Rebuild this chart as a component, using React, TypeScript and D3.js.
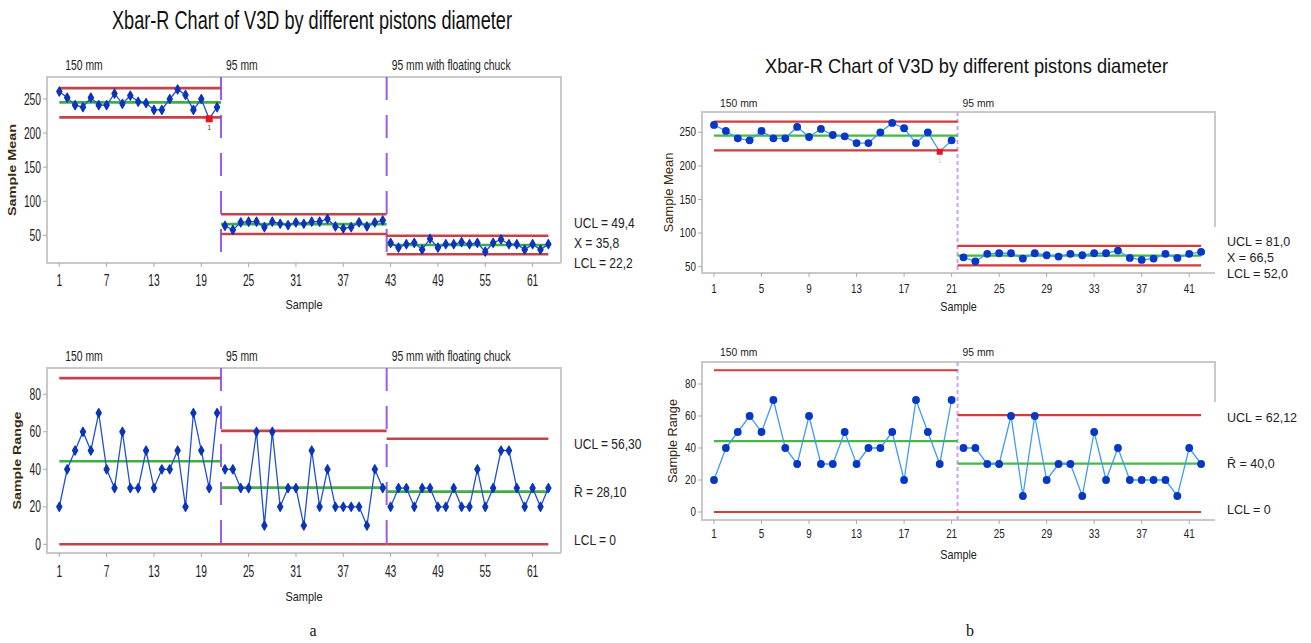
import React from "react";
import * as d3 from "d3";

// ---------------- data ----------------
const titleText = "Xbar-R Chart of V3D by different pistons diameter";
const stageNamesA = ["150 mm", "95 mm", "95 mm with floating chuck"];
const stageNamesB = ["150 mm", "95 mm"];

const mean150 = [261, 252, 241, 238, 252, 241, 241, 258, 243, 255, 246, 244, 234, 234, 250, 264, 256, 234, 250, 221, 238];
const mean95 = [64, 58, 69, 70, 70, 62, 70, 67, 65, 69, 67, 70, 70, 74, 63, 60, 62, 69, 63, 69, 72];
const mean95Chuck = [39, 32, 37, 39, 29, 45, 32, 37, 37, 40, 37, 39, 26, 39, 44, 37, 37, 29, 37, 29, 37];

const range150 = [20, 40, 50, 60, 50, 70, 40, 30, 60, 30, 30, 50, 30, 40, 40, 50, 20, 70, 50, 30, 70];
const range95 = [40, 40, 30, 30, 60, 10, 60, 20, 30, 30, 10, 50, 20, 40, 20, 20, 20, 20, 10, 40, 30];
const range95Chuck = [20, 30, 30, 20, 30, 30, 20, 20, 30, 20, 20, 40, 20, 30, 50, 50, 30, 20, 30, 20, 30];

const meanUCL = [266, 81.0, 49.4];
const meanCL = [245, 66.5, 35.8];
const meanLCL = [223, 52.0, 22.2];
const rangeUCL = [88.6, 60.5, 56.3];
const rangeCL = [44.3, 30.2, 28.1];
const rangeLCL = [0, 0, 0];

const flaggedSamples = [20];
const flagText = "1";

const meanTicks = [50, 100, 150, 200, 250];
const rangeTicks = [0, 20, 40, 60, 80];
const sampleTicksA = [1, 7, 13, 19, 25, 31, 37, 43, 49, 55, 61];
const sampleTicksB = [1, 5, 9, 13, 17, 21, 25, 29, 33, 37, 41];

const meanLabelsA = ["UCL = 49,4", "X = 35,8", "LCL = 22,2"];
const rangeLabelsA = ["UCL = 56,30", "R\u0304 = 28,10", "LCL = 0"];
const meanLabelsB = ["UCL = 81,0", "X = 66,5", "LCL = 52,0"];
const rangeLabelsB = ["UCL = 62,12", "R\u0304 = 40,0", "LCL = 0"];

const xAxisTitle = "Sample";
const meanAxisTitle = "Sample Mean";
const rangeAxisTitle = "Sample Range";
const panelLetters = ["a", "b"];

// ---------------- styles ----------------
const FB = "'Liberation Sans', Arial, sans-serif";

type Style = {
  tickSize: number;
  tickSq: number;
  stageSize: number;
  stageSq: number;
  xTitleSize: number;
  xTitleSq: number;
  sideSize: number;
  sideSq: number;
  lineColor: string;
  pointColor: string;
  red: string;
  green: string;
  limitWidth: number;
  dashColor: string;
  dash: string;
  dashWidth: number;
  marker: "diamond" | "circle";
  flagSize: number;
};

const styleA: Style = {
  tickSize: 16,
  tickSq: 0.64,
  stageSize: 14,
  stageSq: 0.74,
  xTitleSize: 13,
  xTitleSq: 0.84,
  sideSize: 14,
  sideSq: 0.86,
  lineColor: "#2150d8",
  pointColor: "#0a35b8",
  red: "#c2444a",
  green: "#43ad43",
  limitWidth: 2.6,
  dashColor: "#9a5cf2",
  dash: "23 15",
  dashWidth: 2,
  marker: "diamond",
  flagSize: 7,
};

const styleB: Style = {
  tickSize: 12,
  tickSq: 0.82,
  stageSize: 11.5,
  stageSq: 0.9,
  xTitleSize: 12,
  xTitleSq: 0.9,
  sideSize: 12.5,
  sideSq: 1,
  lineColor: "#3f9cf5",
  pointColor: "#0638c8",
  red: "#d23c3c",
  green: "#45b845",
  limitWidth: 2.2,
  dashColor: "#c9a2f7",
  dash: "4 3",
  dashWidth: 2,
  marker: "circle",
  flagSize: 6,
};

function SqText(props: {
  x: number;
  y: number;
  sq: number;
  size: number;
  anchor?: "start" | "middle" | "end";
  dy?: string;
  weight?: string;
  fill?: string;
  children: React.ReactNode;
}) {
  return (
    <text
      transform={`translate(${props.x},${props.y}) scale(${props.sq},1)`}
      textAnchor={props.anchor || "start"}
      dy={props.dy}
      fontFamily={FB}
      fontWeight={props.weight || "normal"}
      fontSize={props.size}
      fill={props.fill || "#222"}
    >
      {props.children}
    </text>
  );
}

type PanelProps = {
  x0: number;
  x1: number;
  y0: number;
  y1: number;
  xDom: [number, number];
  yDom: [number, number];
  xTicks: number[];
  yTicks: number[];
  series: number[][];
  ucl: number[];
  cl: number[];
  lcl: number[];
  stageNames: string[];
  stageY: number;
  flagged: number[];
  sideLabels: string[];
  sideX: number;
  sideY0: number;
  sideStep: number;
  yTitle: string;
  yTitleX: number;
  yTitleLen: number;
  yTitleBold: boolean;
  yTitleSize: number;
  xTitleY: number;
  xTickY: number;
  rightBorderTo?: number;
  st: Style;
};

function Panel(p: PanelProps) {
  const st = p.st;
  const x = d3.scaleLinear().domain(p.xDom).range([p.x0, p.x1]);
  const y = d3.scaleLinear().domain(p.yDom).range([p.y1, p.y0]);
  const starts: number[] = [];
  let acc = 1;
  p.series.forEach((s) => {
    starts.push(acc);
    acc += s.length;
  });
  const lastSample = acc - 1;
  const boundaries = starts.slice(1).map((s) => s - 0.5);
  const segStart = (i: number) => (i === 0 ? starts[0] : boundaries[i - 1]);
  const segEnd = (i: number) => (i === p.series.length - 1 ? lastSample : boundaries[i]);
  const line = d3
    .line<[number, number]>()
    .x((d) => x(d[0]))
    .y((d) => y(d[1]));
  const diamond = d3.symbol().type(d3.symbolDiamond).size(24)();
  const all: [number, number][] = [];
  p.series.forEach((s, i) => s.forEach((v, j) => all.push([starts[i] + j, v])));
  const xMid = (p.x0 + p.x1) / 2;
  const yMid = (p.y0 + p.y1) / 2;
  const rb = p.rightBorderTo ?? p.y1;

  return (
    <g>
      <path
        d={`M${p.x1},${rb}L${p.x1},${p.y0}L${p.x0},${p.y0}L${p.x0},${p.y1}L${p.x1},${p.y1}`}
        fill="none"
        stroke="#c9c9c9"
        strokeWidth={2}
      />
      {p.yTicks.map((t) => (
        <g key={"yt" + t}>
          <line x1={p.x0 - 4} x2={p.x0} y1={y(t)} y2={y(t)} stroke="#aaa" strokeWidth={1} />
          <SqText x={p.x0 - 6} y={y(t)} dy="0.35em" anchor="end" sq={st.tickSq} size={st.tickSize}>
            {t}
          </SqText>
        </g>
      ))}
      {p.xTicks.map((t) => (
        <g key={"xt" + t}>
          <line x1={x(t)} x2={x(t)} y1={p.y1} y2={p.y1 + 4} stroke="#aaa" strokeWidth={1} />
          <SqText x={x(t)} y={p.xTickY} anchor="middle" sq={st.tickSq} size={st.tickSize}>
            {t}
          </SqText>
        </g>
      ))}
      {boundaries.map((b, i) => (
        <line
          key={"b" + i}
          x1={x(b)}
          x2={x(b)}
          y1={p.y0}
          y2={p.y1}
          stroke={st.dashColor}
          strokeWidth={st.dashWidth}
          strokeDasharray={st.dash}
        />
      ))}
      {p.series.map((_, i) => (
        <g key={"cl" + i}>
          <line x1={x(segStart(i))} x2={x(segEnd(i))} y1={y(p.ucl[i])} y2={y(p.ucl[i])} stroke={st.red} strokeWidth={st.limitWidth} />
          <line x1={x(segStart(i))} x2={x(segEnd(i))} y1={y(p.lcl[i])} y2={y(p.lcl[i])} stroke={st.red} strokeWidth={st.limitWidth} />
          <line x1={x(segStart(i))} x2={x(segEnd(i))} y1={y(p.cl[i])} y2={y(p.cl[i])} stroke={st.green} strokeWidth={st.limitWidth} />
        </g>
      ))}
      {p.series.map((s, i) => (
        <path
          key={"ln" + i}
          d={line(s.map((v, j) => [starts[i] + j, v] as [number, number])) || ""}
          fill="none"
          stroke={st.lineColor}
          strokeWidth={1.3}
        />
      ))}
      {all.map(([sx, v]) => {
        if (p.flagged.includes(sx)) {
          const s = st.flagSize;
          return (
            <g key={"p" + sx}>
              <rect x={x(sx) - s / 2} y={y(v) - s / 2} width={s} height={s} fill="#e8141c" />
              <text
                x={x(sx)}
                y={y(v) + s / 2 + 8}
                textAnchor="middle"
                fontFamily={FB}
                fontSize={st.marker === "diamond" ? 8 : 5}
                fill={st.marker === "diamond" ? "#6b5a10" : "#bbb"}
              >
                {flagText}
              </text>
            </g>
          );
        }
        return st.marker === "diamond" ? (
          <path
            key={"p" + sx}
            d={diamond || ""}
            transform={`translate(${x(sx)},${y(v)})`}
            fill={st.pointColor}
            stroke={st.pointColor}
            strokeWidth={1.2}
            strokeLinejoin="round"
          />
        ) : (
          <circle key={"p" + sx} cx={x(sx)} cy={y(v)} r={3.9} fill={st.pointColor} />
        );
      })}
      {p.stageNames.map((nm, i) => (
        <SqText
          key={"sn" + i}
          x={i === 0 ? x(starts[0]) + 6 : x(boundaries[i - 1]) + 5}
          y={p.stageY}
          sq={st.stageSq}
          size={st.stageSize}
        >
          {nm}
        </SqText>
      ))}
      {p.sideLabels.map((s, i) => (
        <SqText key={"sl" + i} x={p.sideX} y={p.sideY0 + i * p.sideStep} sq={st.sideSq} size={st.sideSize}>
          {s}
        </SqText>
      ))}
      <text
        transform={`translate(${p.yTitleX},${yMid}) rotate(-90)`}
        textAnchor="middle"
        dy="0.35em"
        fontFamily={FB}
        fontWeight={p.yTitleBold ? "bold" : "normal"}
        fontSize={p.yTitleSize}
        textLength={p.yTitleLen}
        lengthAdjust="spacingAndGlyphs"
        fill="#3a2a10"
      >
        {p.yTitle}
      </text>
      <SqText x={xMid} y={p.xTitleY} anchor="middle" sq={st.xTitleSq} size={st.xTitleSize}>
        {xAxisTitle}
      </SqText>
    </g>
  );
}

export default function App() {
  return (
    <svg width={1311} height={643} style={{ position: "absolute", left: 0, top: 0, background: "#fff" }}>
      <rect x={0} y={0} width={1311} height={643} fill="#fff" />
      {/* ---------- chart a ---------- */}
      <text x={112} y={29} fontFamily={FB} fontSize={25} textLength={400} lengthAdjust="spacingAndGlyphs" fill="#111">
        {titleText}
      </text>
      <Panel
        x0={47}
        x1={561}
        y0={77}
        y1={263}
        xDom={[-0.56, 64.6]}
        yDom={[9.4, 282.3]}
        xTicks={sampleTicksA}
        yTicks={meanTicks}
        series={[mean150, mean95, mean95Chuck]}
        ucl={meanUCL}
        cl={meanCL}
        lcl={meanLCL}
        stageNames={stageNamesA}
        stageY={70}
        flagged={flaggedSamples}
        sideLabels={meanLabelsA}
        sideX={574}
        sideY0={228}
        sideStep={20}
        yTitle={meanAxisTitle}
        yTitleX={12}
        yTitleLen={92}
        yTitleBold={true}
        yTitleSize={11}
        xTitleY={309}
        xTickY={286}
        st={styleA}
      />
      <Panel
        x0={47}
        x1={561}
        y0={368}
        y1={553}
        xDom={[-0.56, 64.6]}
        yDom={[-4.64, 94]}
        xTicks={sampleTicksA}
        yTicks={rangeTicks}
        series={[range150, range95, range95Chuck]}
        ucl={rangeUCL}
        cl={rangeCL}
        lcl={rangeLCL}
        stageNames={stageNamesA}
        stageY={361}
        flagged={[]}
        sideLabels={rangeLabelsA}
        sideX={574}
        sideY0={449}
        sideStep={48}
        yTitle={rangeAxisTitle}
        yTitleX={17}
        yTitleLen={98}
        yTitleBold={true}
        yTitleSize={11}
        xTitleY={601}
        xTickY={577}
        st={styleA}
      />
      {/* ---------- chart b ---------- */}
      <text x={765} y={73} fontFamily={FB} fontSize={21} textLength={403} lengthAdjust="spacingAndGlyphs" fill="#111">
        {titleText}
      </text>
      <Panel
        x0={702}
        x1={1215}
        y0={112}
        y1={273}
        xDom={[-0.01, 43.17]}
        yDom={[40.6, 280.2]}
        xTicks={sampleTicksB}
        yTicks={meanTicks}
        series={[mean150, mean95]}
        ucl={meanUCL.slice(0, 2)}
        cl={meanCL.slice(0, 2)}
        lcl={meanLCL.slice(0, 2)}
        stageNames={stageNamesB}
        stageY={107}
        flagged={flaggedSamples}
        sideLabels={meanLabelsB}
        sideX={1227}
        sideY0={245.5}
        sideStep={16.3}
        yTitle={meanAxisTitle}
        yTitleX={669}
        yTitleLen={80}
        yTitleBold={false}
        yTitleSize={12.5}
        xTitleY={311}
        xTickY={293}
        rightBorderTo={227}
        st={styleB}
      />
      <Panel
        x0={702}
        x1={1215}
        y0={362}
        y1={520}
        xDom={[-0.01, 43.17]}
        yDom={[-5, 93.75]}
        xTicks={sampleTicksB}
        yTicks={rangeTicks}
        series={[range150, range95]}
        ucl={rangeUCL.slice(0, 2)}
        cl={rangeCL.slice(0, 2)}
        lcl={rangeLCL.slice(0, 2)}
        stageNames={stageNamesB}
        stageY={356}
        flagged={[]}
        sideLabels={rangeLabelsB}
        sideX={1227}
        sideY0={422}
        sideStep={46}
        yTitle={rangeAxisTitle}
        yTitleX={673}
        yTitleLen={84}
        yTitleBold={false}
        yTitleSize={12.5}
        xTitleY={559}
        xTickY={538}
        rightBorderTo={402}
        st={styleB}
      />
      <text x={313} y={636} textAnchor="middle" fontFamily="'Liberation Serif', 'DejaVu Serif', serif" fontSize={16} fill="#111">
        {panelLetters[0]}
      </text>
      <text x={970} y={636} textAnchor="middle" fontFamily="'Liberation Serif', 'DejaVu Serif', serif" fontSize={16} fill="#111">
        {panelLetters[1]}
      </text>
    </svg>
  );
}
